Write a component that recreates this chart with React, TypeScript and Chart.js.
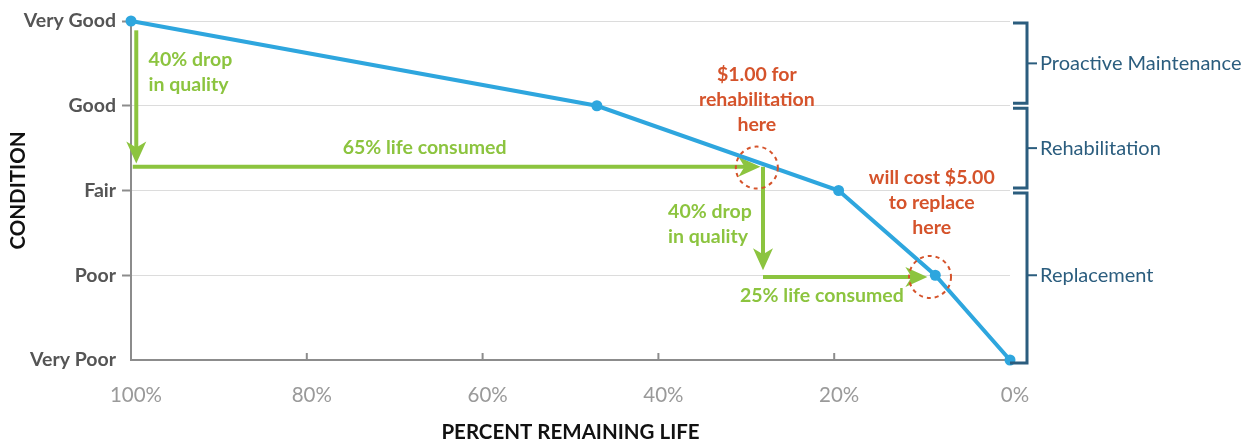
import React, { useEffect, useRef } from 'react';
import { Chart, registerables } from 'chart.js';

Chart.register(...registerables);

// Condition scale (0 = Very Poor ... 4 = Very Good)
const conditionLabels = ['Very Poor', 'Poor', 'Fair', 'Good', 'Very Good'];
// Deterioration curve: percent of remaining life vs. condition
const remainingLife = [100, 47, 19.5, 8.5, 0];
const conditionValues = [4, 3, 2, 1, 0];
const lifeTicks = [100, 80, 60, 40, 20, 0];

// Treatment strategy bands on the condition scale
const strategyLabels = ['Proactive Maintenance', 'Rehabilitation', 'Replacement'];
const strategyLow = [3, 2, 0];
const strategyHigh = [4, 3, 2];

// Green arrows: [x1, y1, x2, y2] in (remaining life %, condition)
const dropArrows = [
  [99.4, 3.89, 99.4, 2.32],
  [99.8, 2.28, 28.4, 2.28],
  [28.1, 2.28, 28.1, 1.06],
  [28.1, 0.98, 9.4, 0.98],
];

// Text notes: anchor in (remaining life %, condition)
const noteLines = [
  ['40% drop', 'in quality'],
  ['65% life consumed'],
  ['40% drop', 'in quality'],
  ['25% life consumed'],
  ['$1.00 for', 'rehabilitation', 'here'],
  ['will cost $5.00', 'to replace', 'here'],
];
const noteX = [98, 66.6, 38.9, 21.4, 28.8, 8.9];
const noteY = [3.54, 2.5, 1.746, 0.755, 3.363, 2.147];
const noteAlign = ['left', 'center', 'left', 'center', 'center', 'center'];
const noteKind = ['drop', 'drop', 'drop', 'drop', 'cost', 'cost'];

// Dashed rings marking the cost points
const ringX = [28.8, 9.1];
const ringY = [2.27, 0.98];

const BLUE = '#2ea6de';
const GREEN = '#8cc43f';
const ORANGE = '#d5532b';
const NAVY = '#2b5d7e';
const AXIS_GRAY = '#8c8c8c';
const FONT = 'Lato, "Open Sans", sans-serif';

function drawArrow(ctx: CanvasRenderingContext2D, x1: number, y1: number, x2: number, y2: number) {
  const ang = Math.atan2(y2 - y1, x2 - x1);
  const headLen = 22;
  const halfW = 10;
  const ux = Math.cos(ang), uy = Math.sin(ang);
  const bx = x2 - ux * headLen, by = y2 - uy * headLen;
  ctx.strokeStyle = GREEN;
  ctx.fillStyle = GREEN;
  ctx.lineWidth = 4;
  ctx.lineCap = 'butt';
  ctx.beginPath();
  ctx.moveTo(x1, y1);
  ctx.lineTo(x2 - ux * 10, y2 - uy * 10);
  ctx.stroke();
  ctx.beginPath();
  ctx.moveTo(x2, y2);
  ctx.lineTo(bx - uy * halfW, by + ux * halfW);
  ctx.lineTo(x2 - ux * headLen * 0.72, y2 - uy * headLen * 0.72);
  ctx.lineTo(bx + uy * halfW, by - ux * halfW);
  ctx.closePath();
  ctx.fill();
}

const lifecyclePlugin = {
  id: 'lifecycleNotes',
  beforeDatasetsDraw(chart: any) {
    const { ctx, scales } = chart;
    const px = (v: number) => scales.x.getPixelForValue(v);
    const py = (v: number) => scales.y.getPixelForValue(v);
    ctx.save();
    for (const [x1, y1, x2, y2] of dropArrows) {
      drawArrow(ctx, px(x1), py(y1), px(x2), py(y2));
    }
    ctx.restore();
  },
  afterDraw(chart: any) {
    const { ctx, chartArea, scales } = chart;
    const px = (v: number) => scales.x.getPixelForValue(v);
    const py = (v: number) => scales.y.getPixelForValue(v);
    ctx.save();

    // inward tick marks on the life axis
    ctx.strokeStyle = AXIS_GRAY;
    ctx.lineWidth = 2;
    for (const t of lifeTicks) {
      if (t === 100 || t === 0) continue;
      ctx.beginPath();
      ctx.moveTo(px(t), chartArea.bottom);
      ctx.lineTo(px(t), chartArea.bottom - 7);
      ctx.stroke();
    }

    // strategy brackets on the right
    const bx = chartArea.right + 17;
    ctx.strokeStyle = NAVY;
    ctx.lineWidth = 3;
    ctx.lineCap = 'butt';
    strategyLabels.forEach((label, i) => {
      const top = py(strategyHigh[i]) + (strategyHigh[i] === 4 ? 2 : 2.5);
      const bot = py(strategyLow[i]) + (strategyLow[i] === 0 ? 3 : -2.5);
      const left = strategyLow[i] === 0 ? chartArea.right : chartArea.right + 3;
      ctx.beginPath();
      ctx.moveTo(chartArea.right + 3, top);
      ctx.lineTo(bx, top);
      ctx.lineTo(bx, bot);
      ctx.lineTo(left, bot);
      ctx.stroke();
      const mid = py((strategyHigh[i] + strategyLow[i]) / 2);
      ctx.lineWidth = 2;
      ctx.beginPath();
      ctx.moveTo(bx, mid);
      ctx.lineTo(bx + 10, mid);
      ctx.stroke();
      ctx.lineWidth = 3;
      ctx.fillStyle = NAVY;
      ctx.font = `400 20px ${FONT}`;
      ctx.textAlign = 'left';
      ctx.textBaseline = 'middle';
      ctx.fillText(label, bx + 13, mid);
    });

    // dashed rings
    ctx.strokeStyle = ORANGE;
    ctx.lineWidth = 2;
    ctx.setLineDash([4, 4]);
    ringX.forEach((rx, i) => {
      ctx.beginPath();
      ctx.arc(px(rx), py(ringY[i]), 21, 0, Math.PI * 2);
      ctx.stroke();
    });
    ctx.setLineDash([]);

    // text notes
    ctx.textBaseline = 'middle';
    noteLines.forEach((lines, i) => {
      ctx.fillStyle = noteKind[i] === 'drop' ? GREEN : ORANGE;
      ctx.font = `700 19.5px ${FONT}`;
      ctx.textAlign = noteAlign[i] as CanvasTextAlign;
      lines.forEach((t, j) => {
        ctx.fillText(t, px(noteX[i]), py(noteY[i]) + j * 25);
      });
    });

    ctx.restore();
  },
};

export default function App() {
  const canvasRef = useRef<HTMLCanvasElement | null>(null);

  useEffect(() => {
    const canvas = canvasRef.current;
    if (!canvas) return;
    const chart = new Chart(canvas, {
      type: 'line',
      data: {
        datasets: [
          {
            data: remainingLife.map((x, i) => ({ x, y: conditionValues[i] })),
            borderColor: BLUE,
            backgroundColor: BLUE,
            borderWidth: 4,
            pointRadius: 5.5,
            pointBackgroundColor: BLUE,
            pointBorderWidth: 0,
            clip: false,
            tension: 0,
          },
        ],
      },
      options: {
        animation: false,
        responsive: true,
        maintainAspectRatio: false,
        layout: { padding: { top: 21, right: 248, left: 0, bottom: 0 } },
        plugins: {
          legend: { display: false },
          tooltip: { enabled: false },
        },
        scales: {
          x: {
            type: 'linear',
            min: 0,
            max: 100,
            reverse: true,
            afterFit: (s: any) => {
              s.height = 86;
            },
            afterBuildTicks: (s: any) => {
              s.ticks = lifeTicks.map((v) => ({ value: v }));
            },
            grid: { display: false },
            border: { display: true, color: AXIS_GRAY, width: 2 },
            ticks: {
              color: '#9a9a9a',
              font: { family: FONT, size: 20.5 },
              padding: 15,
              labelOffset: 5,
              maxRotation: 0,
              callback: (v: any) => `${v}%`,
            },
            title: {
              display: true,
              text: 'PERCENT REMAINING LIFE',
              color: '#111',
              font: { family: FONT, size: 20.5, weight: 'bold' },
              padding: { top: 0, bottom: 1 },
            },
          },
          y: {
            type: 'linear',
            min: 0,
            max: 4,
            afterFit: (s: any) => {
              s.width = 131;
            },
            afterBuildTicks: (s: any) => {
              s.ticks = conditionLabels.map((_, i) => ({ value: i }));
            },
            grid: {
              color: '#dcdcdc',
              lineWidth: 1,
              drawTicks: true,
              tickLength: 9,
              tickColor: (c: any) => (c.tick && c.tick.value === 0 ? 'rgba(0,0,0,0)' : AXIS_GRAY),
              tickWidth: 2,
            },
            border: { display: true, color: AXIS_GRAY, width: 2 },
            ticks: {
              color: '#555',
              font: { family: FONT, size: 19.5, weight: 'bold' },
              padding: 6,
              callback: (v: any) => conditionLabels[v as number] ?? '',
            },
            title: {
              display: true,
              text: 'CONDITION',
              color: '#111',
              font: { family: FONT, size: 20.5, weight: 'bold' },
              padding: { top: 6, bottom: 0 },
            },
          },
        },
      },
      plugins: [lifecyclePlugin],
    });
    return () => chart.destroy();
  }, []);

  return (
    <div style={{ position: 'absolute', left: 0, top: 0, width: 1258, height: 446, background: '#fff' }}>
      <canvas ref={canvasRef} />
    </div>
  );
}
